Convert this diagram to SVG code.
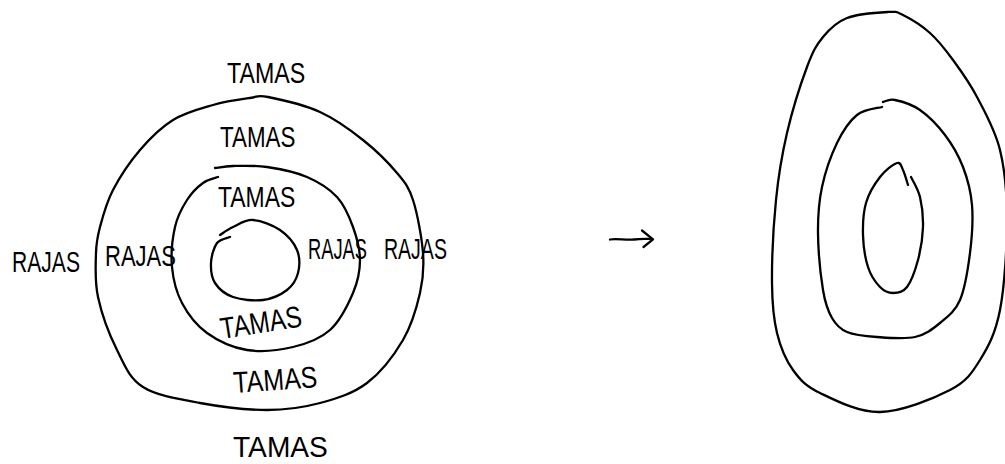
<svg xmlns="http://www.w3.org/2000/svg" width="1005" height="464" viewBox="0 0 1005 464">
<style>
.ln{fill:none;stroke:#000;stroke-width:2.3;stroke-linecap:round;stroke-linejoin:round}
.t{font-family:"Liberation Sans",Arial,sans-serif;font-size:30px;fill:#000}
</style>
<rect width="1005" height="464" fill="#fff"/>
<g id="left-diagram">
<g id="outer-circle">
<path class="ln" d="M268,97 C279.7,99.3 304.2,104.8 320,112 C335.8,119.2 350.2,129.8 363,140 C375.8,150.2 388.7,163 397,173 C405.3,183 408.7,186.7 413,200 C417.3,213.3 421.8,237.5 423,253 C424.2,268.5 423.3,278.5 420,293 C416.7,307.5 411.8,325 403,340 C394.2,355 380.8,372.5 367,383 C353.2,393.5 336.7,398.5 320,403 C303.3,407.5 287,410 267,410 C247,410 220.7,406.8 200,403 C179.3,399.2 156.8,395.8 143,387 C129.2,378.2 124.5,365 117,350 C109.5,335 101.5,313.2 98,297 C94.5,280.8 95.7,264.7 96,253 C96.3,241.3 97.2,237.5 100,227 C102.8,216.5 106.3,202.8 113,190 C119.7,177.2 130,161.7 140,150 C150,138.3 160.8,127.5 173,120 C185.2,112.5 200.2,108.7 213,105 C225.8,101.3 240.8,99.3 250,98 C259.2,96.7 256.3,94.7 268,97 Z"/>
</g>
<g id="middle-circle">
<path class="ln" d="M215,168 C218,167.7 224.3,166.2 233,166 C241.7,165.8 254.7,165.2 267,167 C279.3,168.8 295.3,172 307,177 C318.7,182 329.3,188.7 337,197 C344.7,205.3 349.2,216.5 353,227 C356.8,237.5 360,249 360,260 C360,271 358,281.3 353,293 C348,304.7 340,321 330,330 C320,339 306.8,343.7 293,347 C279.2,350.3 261.3,352.3 247,350 C232.7,347.7 217.8,340.8 207,333 C196.2,325.2 187.8,314 182,303 C176.2,292 173.2,279.7 172,267 C170.8,254.3 172.5,238.2 175,227 C177.5,215.8 182.3,207.3 187,200 C191.7,192.7 197.8,186.8 203,183 C208.2,179.2 215.5,178 218,177"/>
</g>
<g id="inner-circle">
<path class="ln" d="M220,235 C222.2,233.7 227.5,229.5 233,227 C238.5,224.5 245.2,219.5 253,220 C260.8,220.5 272.7,225 280,230 C287.3,235 294,242.8 297,250 C300,257.2 299.7,266.3 298,273 C296.3,279.7 292.8,285.5 287,290 C281.2,294.5 272,298.8 263,300 C254,301.2 241,299.8 233,297 C225,294.2 218.7,288.7 215,283 C211.3,277.3 210.7,269.7 211,263 C211.3,256.3 213.8,247.3 217,243 C220.2,238.7 227.8,238 230,237"/>
</g>
<g id="labels">
<text class="t" transform="translate(227 83) scale(0.774 1)">TAMAS</text>
<text class="t" transform="translate(220 147) scale(0.745 1)">TAMAS</text>
<text class="t" transform="translate(218 207) scale(0.764 1)">TAMAS</text>
<text class="t" transform="translate(12 272) scale(0.703 1)">RAJAS</text>
<text class="t" transform="translate(105 266) scale(0.734 1)">RAJAS</text>
<text class="t" transform="translate(308 259) scale(0.61 1)">RAJAS</text>
<text class="t" transform="translate(384 259) scale(0.651 1)">RAJAS</text>
<text class="t" transform="translate(222 339) rotate(-9) scale(0.813 1)">TAMAS</text>
<text class="t" transform="translate(234 393) rotate(-4) scale(0.832 1)">TAMAS</text>
<text class="t" transform="translate(233 457) scale(0.939 1)">TAMAS</text>
</g>
</g>
<g id="connectors">
<path class="ln" d="M610,239.5 C616,238 626,240.5 634,239.5 C642,238.5 647,239 652,239"/>
<path class="ln" d="M642,230.5 L653,239.3 L643.5,247"/>
</g>
<g id="right-diagram">
<g id="outer-egg">
<path class="ln" d="M888,12 C878.7,12.5 857.8,13.8 847,18 C836.2,22.2 829.7,28.8 823,37 C816.3,45.2 813,51 807,67 C801,83 792.2,110.8 787,133 C781.8,155.2 778.5,175 776,200 C773.5,225 771.8,260.8 772,283 C772.2,305.2 773.5,318.5 777,333 C780.5,347.5 785.8,360 793,370 C800.2,380 805.5,386 820,393 C834.5,400 858.3,412.5 880,412 C901.7,411.5 933.3,398.7 950,390 C966.7,381.3 971.7,373.3 980,360 C988.3,346.7 995.5,333.3 1000,310 C1004.5,286.7 1007,246.7 1007,220 C1007,193.3 1005,170.5 1000,150 C995,129.5 984.8,112 977,97 C969.2,82 960.8,70.7 953,60 C945.2,49.3 938.3,40.5 930,33 C921.7,25.5 910,18.5 903,15 C896,11.5 897.3,11.5 888,12 Z"/>
</g>
<g id="middle-egg">
<path class="ln" d="M883,102 C885,101.7 888.8,98.7 895,100 C901.2,101.3 911.7,104.2 920,110 C928.3,115.8 937.8,125.5 945,135 C952.2,144.5 958.5,155.3 963,167 C967.5,178.7 970.8,190.7 972,205 C973.2,219.3 972,237.2 970,253 C968,268.8 965,288.3 960,300 C955,311.7 947.5,316.8 940,323 C932.5,329.2 925.5,334.7 915,337 C904.5,339.3 888.3,337.8 877,337 C865.7,336.2 854.5,335.2 847,332 C839.5,328.8 836,325 832,318 C828,311 825.3,304.2 823,290 C820.7,275.8 818.2,250.2 818,233 C817.8,215.8 818.8,202 822,187 C825.2,172 831.2,155 837,143 C842.8,131 849.5,121 857,115 C864.5,109 877.8,108.3 882,107"/>
</g>
<g id="inner-egg">
<path class="ln" d="M908,185 C907.2,182.5 904.8,173.7 903,170 C901.2,166.3 900.8,161.8 897,163 C893.2,164.2 885.2,170.3 880,177 C874.8,183.7 868.8,193.3 866,203 C863.2,212.7 862.7,224.3 863,235 C863.3,245.7 865.2,258.3 868,267 C870.8,275.7 875.8,282.7 880,287 C884.2,291.3 888.5,293 893,293 C897.5,293 902.8,292.5 907,287 C911.2,281.5 915.3,270 918,260 C920.7,250 922.7,237.5 923,227 C923.3,216.5 922,205.3 920,197 C918,188.7 912.5,180.3 911,177"/>
</g>
</g>
</svg>
